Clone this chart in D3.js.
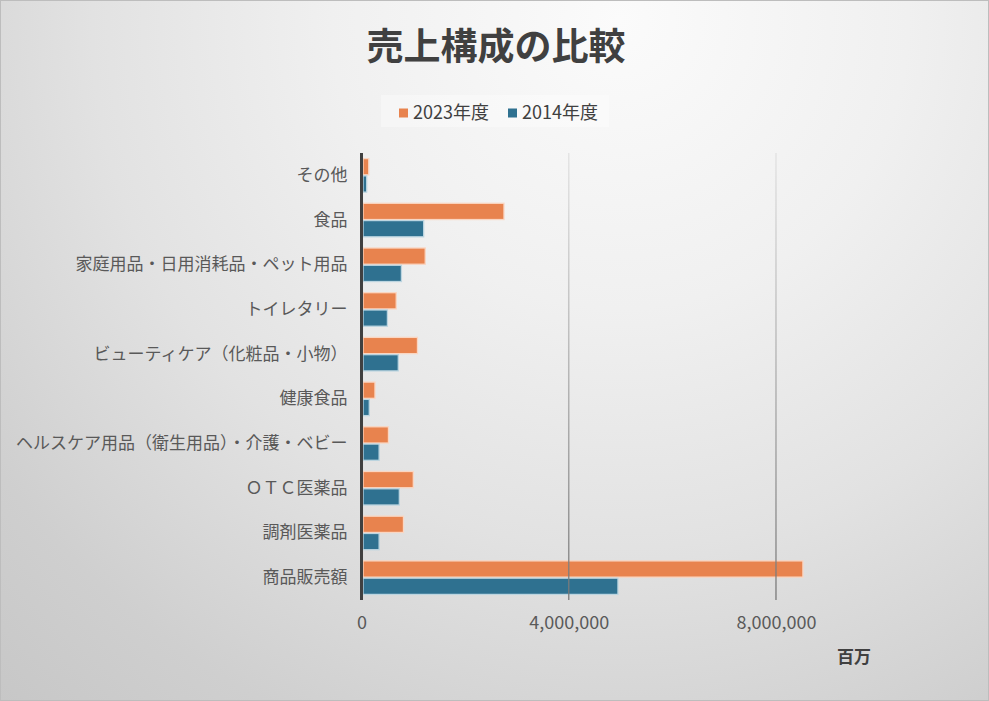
<!DOCTYPE html>
<html>
<head>
<meta charset="utf-8">
<script src="https://cdn.jsdelivr.net/npm/d3@7"></script>
<style>
  html, body { margin: 0; padding: 0; background: #fff; }
  svg { display: block; }
  text { font-family: "Noto Sans CJK JP", "Noto Sans", sans-serif; }
</style>
</head>
<body>
<svg id="chart" width="989" height="701"></svg>
<script>
const categories = ["その他", "食品", "家庭用品・日用消耗品・ペット用品", "トイレタリー",
  "ビューティケア（化粧品・小物）", "健康食品", "ヘルスケア用品（衛生用品）・介護・ベビー",
  "ＯＴＣ医薬品", "調剤医薬品", "商品販売額"];
const seriesNames = ["2023年度", "2014年度"];
const values2023 = [140000, 2750000, 1230000, 670000, 1080000, 260000, 520000, 1000000, 810000, 8520000];
const values2014 = [100000, 1200000, 770000, 500000, 710000, 150000, 340000, 730000, 340000, 4950000];
const xTicks = [0, 4000000, 8000000];
const titleText = "売上構成の比較";
const unitText = "百万";

const W = 989, H = 701;
const svg = d3.select("#chart");
const defs = svg.append("defs");

// background gradient
const bg = defs.append("radialGradient").attr("id", "bg")
  .attr("gradientUnits", "userSpaceOnUse")
  .attr("cx", 620).attr("cy", 20).attr("r", 960);
[[0, "#fbfbfb"], [0.3, "#f0f0f0"], [0.55, "#e2e2e2"], [0.8, "#cfcfcf"], [1, "#c5c5c5"]]
  .forEach(([o, c]) => bg.append("stop").attr("offset", o).attr("stop-color", c));
svg.append("rect").attr("x", 0.5).attr("y", 0.5).attr("width", W - 1).attr("height", H - 1)
  .attr("fill", "url(#bg)").attr("stroke", "#bdbdbd").attr("stroke-width", 1);

// gridline gradient
const gg = defs.append("linearGradient").attr("id", "grid")
  .attr("gradientUnits", "userSpaceOnUse").attr("x1", 0).attr("y1", 153).attr("x2", 0).attr("y2", 600);
gg.append("stop").attr("offset", 0).attr("stop-color", "#e2e2e2");
gg.append("stop").attr("offset", 1).attr("stop-color", "#777777");

const plotTop = 153, plotBottom = 600;
const x = d3.scaleLinear().domain([0, 10000000]).range([361.5, 879.6]);
const y = d3.scaleBand().domain(categories).range([plotTop, plotBottom]).paddingInner(0.25).paddingOuter(0.125);
const ySub = d3.scaleBand().domain(seriesNames).range([0, y.bandwidth()]).paddingInner(0.06);
const fills = { "2023年度": "#E8834E", "2014年度": "#2F7190" };
const strokes = { "2023年度": "#FAD6C2", "2014年度": "#BCD5E0" };

// title
svg.append("text").attr("x", 496).attr("y", 60).attr("text-anchor", "middle")
  .attr("font-size", 37).attr("font-weight", "bold").attr("fill", "#404040").text(titleText);

// legend
const lg = svg.append("g");
lg.append("rect").attr("x", 381).attr("y", 95).attr("width", 228).attr("height", 32)
  .attr("fill", "#ffffff").attr("opacity", 0.35);
const legendX = [399, 508];
seriesNames.forEach((s, i) => {
  lg.append("rect").attr("x", legendX[i]).attr("y", 108.5).attr("width", 9).attr("height", 9).attr("fill", fills[s]);
  lg.append("text").attr("x", legendX[i] + 14).attr("y", 119).attr("font-size", 18)
    .attr("fill", "#404040").text(s);
});

// bars
const data = categories.map((c, i) => ({ cat: c, vals: [
  { s: seriesNames[0], v: values2023[i] }, { s: seriesNames[1], v: values2014[i] }] }));
const groups = svg.append("g").selectAll("g").data(data).join("g")
  .attr("transform", d => `translate(0,${y(d.cat)})`);
groups.selectAll("rect").data(d => d.vals).join("rect")
  .attr("x", x(0) + 1.5)
  .attr("y", d => ySub(d.s))
  .attr("width", d => Math.max(0, x(d.v) - x(0) - 1.5))
  .attr("height", ySub.bandwidth())
  .attr("fill", d => fills[d.s])
  .attr("stroke", d => strokes[d.s]).attr("stroke-width", 1.3);

// gridlines (over bars, semi transparent)
svg.append("g").selectAll("line").data(xTicks.filter(t => t > 0)).join("line")
  .attr("x1", d => x(d)).attr("x2", d => x(d))
  .attr("y1", plotTop).attr("y2", plotBottom)
  .attr("stroke", "url(#grid)").attr("stroke-width", 1.5).attr("opacity", 0.85);

// x axis labels
const xAxis = d3.axisBottom(x).tickValues(xTicks).tickSize(0).tickPadding(0)
  .tickFormat(d3.format(","));
const xg = svg.append("g").attr("transform", `translate(0,${plotBottom + 29})`).call(xAxis);
xg.select(".domain").remove();
xg.selectAll("text").attr("font-size", 18).attr("fill", "#595959")
  .attr("font-family", "'Noto Sans CJK JP', sans-serif").attr("dy", 0);

// y axis
const yAxis = d3.axisLeft(y).tickSize(0).tickPadding(14);
const yg = svg.append("g").attr("transform", `translate(${x(0)},0)`).call(yAxis);
yg.select(".domain").remove();
yg.selectAll("text").attr("font-size", 17).attr("fill", "#595959")
  .attr("font-family", "'Noto Sans CJK JP', sans-serif");

// y axis line
svg.append("line").attr("x1", x(0)).attr("x2", x(0)).attr("y1", plotTop).attr("y2", plotBottom)
  .attr("stroke", "#404040").attr("stroke-width", 3);

// unit label
svg.append("text").attr("x", 854).attr("y", 663).attr("text-anchor", "middle")
  .attr("font-size", 17).attr("font-weight", "bold").attr("fill", "#404040").text(unitText);
</script>
</body>
</html>
